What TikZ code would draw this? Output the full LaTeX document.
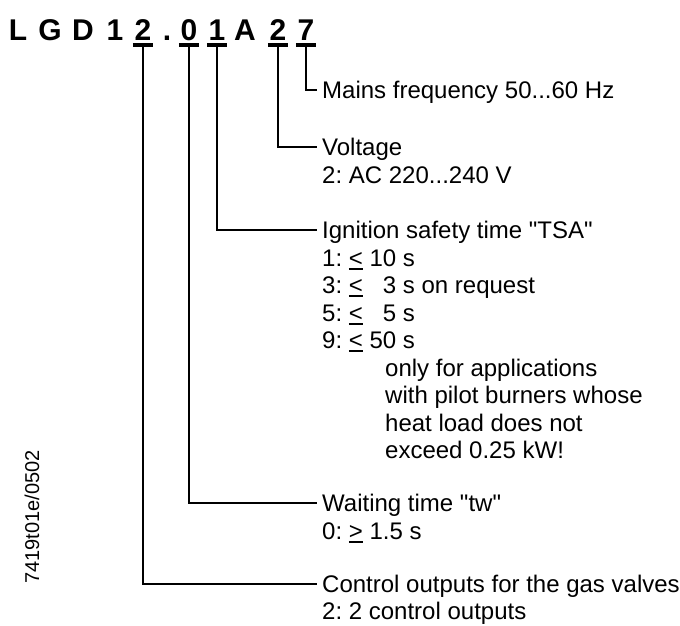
\documentclass[tikz,border=0pt]{standalone}
\usepackage{fontspec}
\setmainfont{Liberation Sans}[Ligatures=TeXOff]
\usetikzlibrary{positioning, calc}
\definecolor{Ink}{HTML}{000000}
\frenchspacing
\newcommand{\uchar}[1]{\leavevmode\vtop{\hbox{#1}\kern1.5pt\hrule height 2pt}}
\tikzset{
    codechar/.style={font=\bfseries\fontsize{30pt}{30pt}\selectfont, text=Ink, anchor=base, inner xsep=1.7pt, inner ysep=4pt},
    infonode/.style={anchor=north west, align=left, inner sep=0pt, yshift=9.4pt, text=Ink, font=\fontsize{24pt}{27.5pt}\selectfont},
    leader/.style={line width=1.8pt, color=Ink},
    underbar/.style={line width=4pt, color=Ink},
}
\begin{document}
\begin{tikzpicture}[x=1pt, y=-1pt]
        \useasboundingbox (0,0) rectangle (680,626);
        % type designation
        \foreach \x/\c/\n in {18/L/cL, 50/G/cG, 83/D/cD, 115/1/cone, 143/2/ctwo, 167/./cdot, 189/0/czero, 217/1/cign, 245/A/cA, 278/2/cvolt, 306/7/cfreq}
            \node[codechar] (\n) at (\x,41) {\c};
        \foreach \n in {ctwo, czero, cign, cvolt, cfreq}
            \draw[underbar] (\n.south west) -- (\n.south east);

        % explanations
        \node[infonode] (freq) at (322,90) {\rule{0pt}{18pt}Mains frequency 50...60 Hz};
        \node[infonode] (volt) at (322,147) {\rule{0pt}{18pt}Voltage\\2: AC 220...240 V};
        \node[infonode] (tsa) at (322,230) {\rule{0pt}{18pt}Ignition safety time "TSA"\\
            1: \uchar{<} 10 s\\
            3: \uchar{<} \phantom{1}3 s on request\\
            5: \uchar{<} \phantom{1}5 s\\
            9: \uchar{<} 50 s\\
            \hspace*{63pt}only for applications\\
            \hspace*{63pt}with pilot burners whose\\
            \hspace*{63pt}heat load does not\\
            \hspace*{63pt}exceed 0.25 kW!};
        \node[infonode] (tw) at (322,503) {\rule{0pt}{18pt}Waiting time "tw"\\0: \uchar{>} 1.5 s};
        \node[infonode, font=\fontsize{24pt}{26.5pt}\selectfont] (outs) at (322,584) {\rule{0pt}{18pt}Control outputs for the gas valves\\2: 2 control outputs};

        \draw[leader] (cfreq.south) |- ([shift={(-5pt,-9.4pt)}]freq.north west);
        \draw[leader] (cvolt.south) |- ([shift={(-5pt,-9.4pt)}]volt.north west);
        \draw[leader] (cign.south) |- ([shift={(-5pt,-9.4pt)}]tsa.north west);
        \draw[leader] (czero.south) |- ([shift={(-5pt,-9.4pt)}]tw.north west);
        \draw[leader] (ctwo.south) |- ([shift={(-5pt,-9.4pt)}]outs.north west);

        \node[rotate=90, text=Ink, font=\fontsize{20pt}{24pt}\selectfont] (docno) at (32,517) {7419t01e/0502};
\end{tikzpicture}
\end{document}
